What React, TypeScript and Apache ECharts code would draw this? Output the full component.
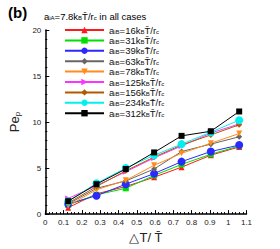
import React, { useEffect, useRef } from "react";
import * as echarts from "echarts";

const xValues = [0.125, 0.28, 0.44, 0.595, 0.745, 0.905, 1.06];

const a16 = [0.7, 2.2, 3.0, 4.0, 5.1, 6.4, 7.3];
const a31 = [1.0, 2.1, 2.8, 4.2, 5.4, 6.5, 7.4];
const a39 = [1.1, 2.0, 3.25, 4.4, 5.7, 6.8, 7.5];
const a63 = [1.1, 2.8, 3.6, 4.9, 6.8, 7.6, 8.4];
const a78 = [0.9, 2.65, 3.67, 5.3, 6.6, 7.7, 8.75];
const a125 = [1.7, 3.1, 4.6, 6.1, 7.4, 8.8, 9.8];
const a156 = [1.2, 3.0, 4.7, 6.2, 7.5, 8.6, 9.7];
const a234 = [1.4, 3.35, 5.0, 6.4, 7.6, 8.9, 10.2];
const a312 = [1.4, 3.25, 4.9, 6.7, 8.5, 9.0, 11.15];

const seriesLabels = ["16", "31", "39", "63", "78", "125", "156", "234", "312"];
const seriesValues = [a16, a31, a39, a63, a78, a125, a156, a234, a312];
const seriesColors = ["#ff1a1a", "#00e000", "#2a2aff", "#666666", "#ff8c1a", "#ff33ff", "#b35a00", "#00f0f0", "#000000"];
const seriesSymbols = ["triangle", "rect", "circle", "diamond", "triangle", "triangle", "diamond", "circle", "rect"];
const seriesRotate = [0, 0, 0, 0, 180, -90, 0, 0, 0];
const seriesSizes = [6, 6, 8, 6, 6, 6, 6, 8, 6];

const yTicks = [0, 5, 10, 15, 20];

export default function App() {
  const ref = useRef<HTMLDivElement>(null);
  useEffect(() => {
    if (!ref.current) return;
    const chart = echarts.init(ref.current, null, { renderer: "svg" });
    const font = "Liberation Sans";
    const rich = {
      n: { fontSize: 9.5, fontFamily: font, fontWeight: "normal", color: "#111", lineHeight: 9 },
      s: { fontSize: 6, fontFamily: font, fontWeight: "normal", color: "#111", lineHeight: 9, verticalAlign: "bottom", padding: [3, 0, 0, 0] },
    };
    const series = seriesValues.map((vals, i) => ({
      name: "a_iB=" + seriesLabels[i],
      type: "line",
      data: vals.map((v, j) => [xValues[j], v]),
      symbol: seriesSymbols[i],
      symbolRotate: seriesRotate[i],
      symbolSize: seriesSizes[i],
      showSymbol: true,
      lineStyle: { color: seriesColors[i], width: 1 },
      itemStyle: { color: seriesColors[i] },
      z: 2 + i,
    }));
    chart.setOption({
      animation: false,
      grid: { left: 36.5, right: 33.5, top: 30, bottom: 28 },
      title: {
        text: "(b)",
        left: 3,
        top: 0,
        textStyle: { fontSize: 15, fontWeight: "bold", fontFamily: font, color: "#000" },
      },
      graphic: [
        {
          type: "text",
          left: 44,
          top: 11,
          style: {
            text: "{n|a}{s|iA}{n|=7.8k}{s|B}{n|T\u0304/r}{s|c}{n| in all cases}",
            rich,
          },
        },
      ],
      legend: {
        orient: "vertical",
        left: 64,
        top: 25,
        itemWidth: 39,
        itemHeight: 8,
        itemGap: 0.4,
        padding: 0,
        data: series.map((s) => s.name),
        formatter: (name: string) => {
          const v = name.replace("a_iB=", "");
          return "{n|a}{s|iB}{n|=" + v + "k}{s|B}{n|T\u0304/r}{s|c}";
        },
        textStyle: { rich },
      },
      xAxis: {
        type: "value",
        min: 0,
        max: 1.1,
        interval: 0.1,
        name: "\u25B3T/ T\u0304",
        nameLocation: "middle",
        nameGap: 11,
        nameTextStyle: { fontSize: 13, fontFamily: font, color: "#222" },
        axisLine: { show: true, lineStyle: { color: "#000", width: 1.5 } },
        axisTick: { show: true, inside: true, length: 4, lineStyle: { color: "#000" } },
        minorTick: { show: true, splitNumber: 5, length: 2, lineStyle: { color: "#000" } },
        splitLine: { show: false },
        axisLabel: {
          fontSize: 8,
          fontFamily: font,
          color: "#222",
          margin: 4,
          formatter: (v: number) => String(+v.toFixed(1)),
        },
      },
      yAxis: {
        type: "value",
        min: 0,
        max: 20,
        interval: 5,
        name: "{n|Pe}{s|p}",
        nameLocation: "middle",
        nameGap: 14,
        nameTextStyle: {
          rich: {
            n: { fontSize: 13, fontFamily: font, color: "#222" },
            s: { fontSize: 8, fontFamily: font, color: "#222", padding: [6, 0, 0, 0] },
          },
        },
        axisLine: { show: true, lineStyle: { color: "#000", width: 1.5 } },
        axisTick: { show: true, inside: true, length: 4, lineStyle: { color: "#000" } },
        minorTick: { show: true, splitNumber: 5, length: 2, lineStyle: { color: "#000" } },
        splitLine: { show: false },
        axisLabel: {
          fontSize: 8,
          fontFamily: font,
          color: "#222",
          margin: 4,
          formatter: (v: number) => (yTicks.includes(v) ? String(v) : ""),
        },
      },
      series,
    });
    return () => chart.dispose();
  }, []);
  return <div ref={ref} style={{ width: 280, height: 249, position: "absolute", left: 0, top: 0 }} />;
}
